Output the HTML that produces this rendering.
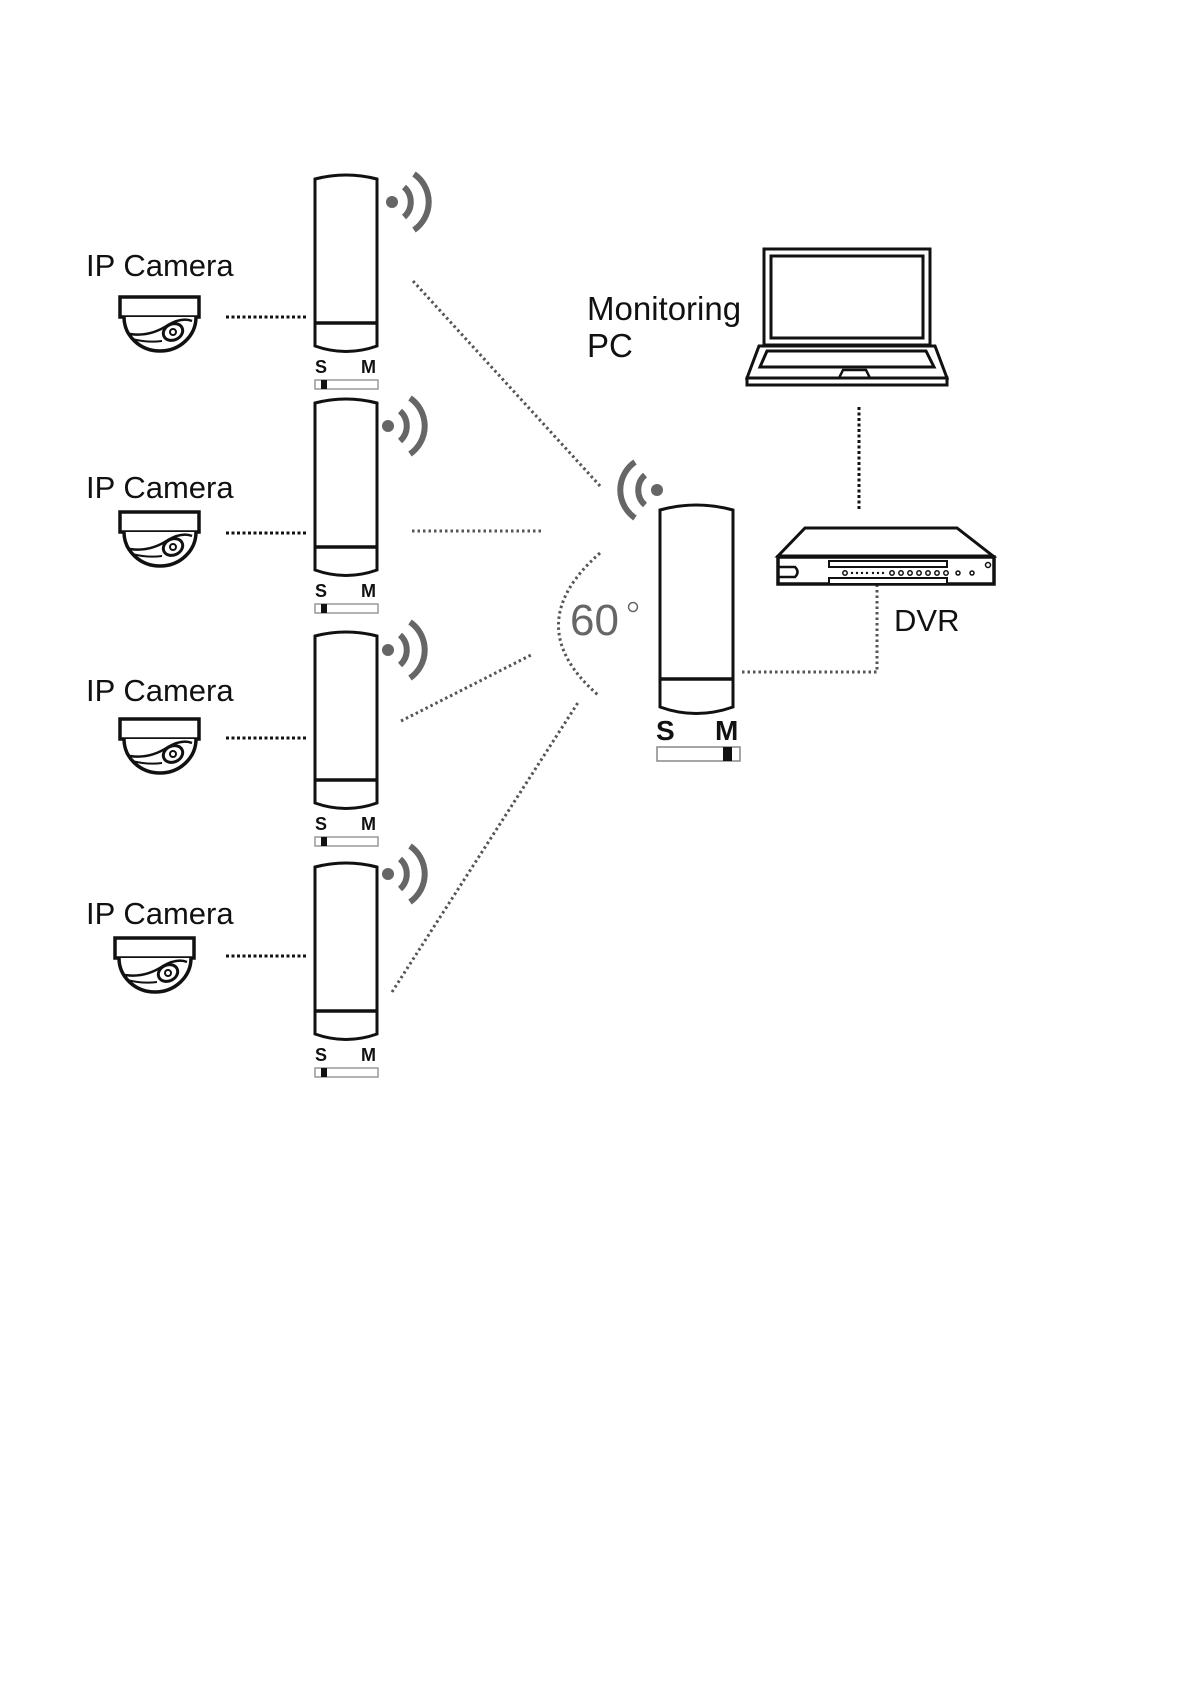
<!DOCTYPE html>
<html><head><meta charset="utf-8"><style>
html,body{margin:0;padding:0;background:#fff;}
svg{display:block;}
text{font-family:"Liberation Sans",sans-serif;}
</style></head><body>
<svg width="1190" height="1684" viewBox="0 0 1190 1684" xmlns="http://www.w3.org/2000/svg">
<defs>
<g id="cpe">
  <path d="M0 5 Q31 -3 62 5 L62 172 Q31 183 0 172 Z" fill="#fff" stroke="#111" stroke-width="3"/>
  <line x1="-1" y1="149" x2="63" y2="149" stroke="#111" stroke-width="3.5"/>
  <text x="0" y="199" font-size="18" font-weight="bold" fill="#111">S</text>
  <text x="46" y="199" font-size="18" font-weight="bold" fill="#111">M</text>
  <rect x="0" y="206" width="63" height="9" fill="#fff" stroke="#999" stroke-width="1.5"/>
  <rect x="6" y="206" width="6" height="9" fill="#111"/>
</g>
<g id="wifiR" fill="none" stroke="#666" stroke-width="6">
  <circle cx="0" cy="0" r="6" fill="#666" stroke="none"/>
  <path d="M12 -15 A20 20 0 0 1 12 15"/>
  <path d="M22 -28 A34 34 0 0 1 22 28"/>
</g>
<g id="cam">
  <rect x="0" y="0" width="79" height="20" fill="#fff" stroke="#111" stroke-width="3.5"/>
  <path d="M4 20 A36 34 0 0 0 76 20" fill="#fff" stroke="#111" stroke-width="3.5"/>
  <path d="M10 37 Q30 40 48 28 Q62 20 72 24" fill="none" stroke="#111" stroke-width="2.5"/>
  <path d="M12 42 Q28 46 42 44" fill="none" stroke="#111" stroke-width="2"/>
  <ellipse cx="53" cy="35" rx="10" ry="8" transform="rotate(-25 53 35)" fill="#fff" stroke="#111" stroke-width="3"/>
  <circle cx="53" cy="35" r="3" fill="none" stroke="#111" stroke-width="2"/>
</g>
</defs>

<g font-size="31" fill="#111">
<text x="86" y="276">IP Camera</text>
<text x="86" y="498">IP Camera</text>
<text x="86" y="701">IP Camera</text>
<text x="86" y="924">IP Camera</text>
<text x="587" y="320" font-size="33">Monitoring</text>
<text x="587" y="357" font-size="33">PC</text>
<text x="894" y="631">DVR</text>
</g>

<use href="#cam" x="120" y="297"/>
<use href="#cam" x="120" y="512"/>
<use href="#cam" x="120" y="719"/>
<use href="#cam" x="115" y="938"/>

<g stroke="#111" stroke-width="3" stroke-dasharray="3 2.5" fill="none">
<line x1="226" y1="317" x2="306" y2="317"/>
<line x1="226" y1="533" x2="306" y2="533"/>
<line x1="226" y1="738" x2="306" y2="738"/>
<line x1="226" y1="956" x2="306" y2="956"/>
</g>

<use href="#cpe" x="315" y="174"/>
<use href="#cpe" x="315" y="398"/>
<use href="#cpe" x="315" y="631"/>
<use href="#cpe" x="315" y="862"/>

<use href="#wifiR" x="392" y="202"/>
<use href="#wifiR" x="388" y="426"/>
<use href="#wifiR" x="388" y="650"/>
<use href="#wifiR" x="388" y="874"/>

<g stroke="#555" stroke-width="3" stroke-dasharray="2.5 3" fill="none">
<line x1="413" y1="281" x2="601" y2="487"/>
<line x1="412" y1="531" x2="544" y2="531"/>
<line x1="401" y1="721" x2="533" y2="654"/>
<line x1="392" y1="992" x2="579" y2="701"/>
<path d="M600 553 Q518 625 598 695"/>
<path d="M742 672 L877 672 L877 572"/>
</g>
<line x1="859" y1="407" x2="859" y2="510" stroke="#111" stroke-width="3" stroke-dasharray="3 2.5"/>

<text x="570" y="635" font-size="44" fill="#666">60</text>
<circle cx="633" cy="607" r="4.5" fill="none" stroke="#666" stroke-width="1.5"/>

<path d="M660 510 Q696 500 733 510 L733 707 Q696 720 660 707 Z" fill="#fff" stroke="#111" stroke-width="3"/>
<line x1="659" y1="679" x2="734" y2="679" stroke="#111" stroke-width="3.5"/>
<text x="656" y="740" font-size="28" font-weight="bold" fill="#111">S</text>
<text x="715" y="740" font-size="28" font-weight="bold" fill="#111">M</text>
<rect x="657" y="747" width="83" height="14" fill="#fff" stroke="#888" stroke-width="1.5"/>
<rect x="723" y="747" width="9" height="14" fill="#111"/>
<g fill="none" stroke="#666" stroke-width="6">
<circle cx="657" cy="490" r="6" fill="#666" stroke="none"/>
<path d="M645 475 A20 20 0 0 0 645 505"/>
<path d="M635 462 A34 34 0 0 0 635 518"/>
</g>

<rect x="764" y="249" width="166" height="96" fill="#fff" stroke="#111" stroke-width="3"/>
<rect x="771" y="256" width="152" height="82" fill="#fff" stroke="#111" stroke-width="3"/>
<path d="M759 346 L935 346 L947 378 L747 378 Z" fill="#fff" stroke="#111" stroke-width="3"/>
<path d="M767 351 L926 351 L934 367 L760 367 Z" fill="#fff" stroke="#111" stroke-width="3"/>
<path d="M839 378 L843 370 L866 370 L870 378" fill="#fff" stroke="#111" stroke-width="2.5"/>
<rect x="747" y="378" width="200" height="7" fill="#fff" stroke="#111" stroke-width="3"/>

<path d="M805 528 L957 528 L993 556 L778 556 Z" fill="#fff" stroke="#111" stroke-width="3"/>
<rect x="778" y="557" width="216" height="27" fill="#fff" stroke="#111" stroke-width="3.5"/>
<rect x="829" y="561" width="118" height="6" fill="#fff" stroke="#111" stroke-width="2"/>
<rect x="829" y="578" width="118" height="6" fill="#fff" stroke="#111" stroke-width="2"/>
<path d="M779 567 L795 567 Q800 572 795 577 L779 577" fill="none" stroke="#111" stroke-width="2.5"/>
<g fill="none" stroke="#111" stroke-width="1.5">
<circle cx="845" cy="573" r="2.2"/>
<circle cx="892" cy="573" r="2.2"/><circle cx="901" cy="573" r="2.2"/><circle cx="910" cy="573" r="2.2"/><circle cx="919" cy="573" r="2.2"/><circle cx="928" cy="573" r="2.2"/><circle cx="937" cy="573" r="2.2"/><circle cx="946" cy="573" r="2.2"/>
<circle cx="958" cy="573" r="2"/><circle cx="972" cy="573" r="2"/><circle cx="988" cy="565" r="2.5"/>
</g>
<g fill="#111"><circle cx="852" cy="573" r="1.2"/><circle cx="857" cy="573" r="1.2"/><circle cx="862" cy="573" r="1.2"/><circle cx="867" cy="573" r="1.2"/><circle cx="873" cy="573" r="1.2"/><circle cx="878" cy="573" r="1.2"/><circle cx="883" cy="573" r="1.2"/></g>
</svg>
</body></html>
